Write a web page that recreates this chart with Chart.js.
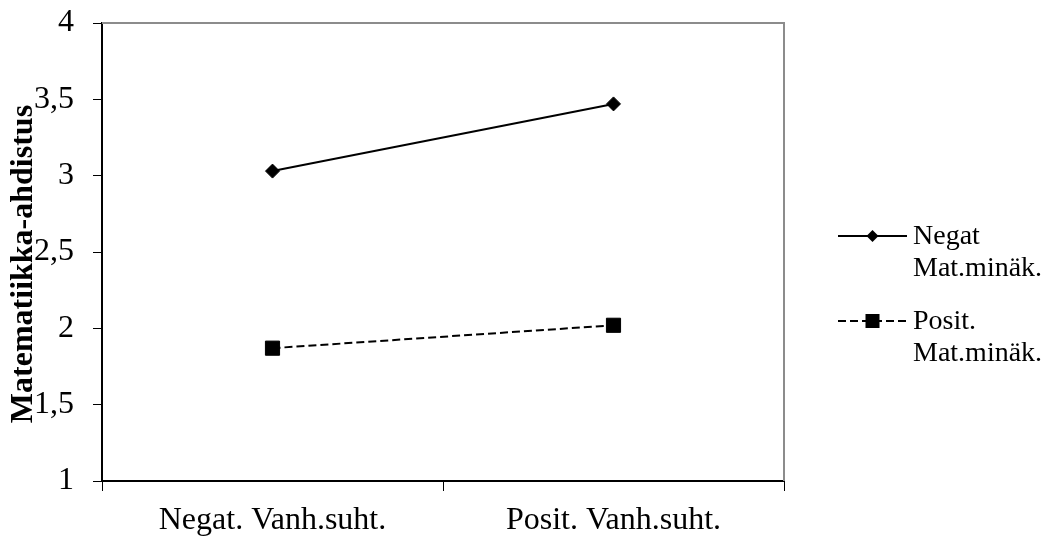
<!DOCTYPE html>
<html>
<head>
<meta charset="utf-8">
<script src="https://cdn.jsdelivr.net/npm/chart.js@4"></script>
<style>
  html, body { margin: 0; padding: 0; background: #fff; }
  #wrap { width: 1050px; height: 536px; }
</style>
</head>
<body>
<div id="wrap"><canvas id="c" width="1050" height="536"></canvas></div>
<script>
// Categories on the x axis
const categories = ['Negat. Vanh.suht.', 'Posit. Vanh.suht.'];
// Mean maths anxiety per group
const negatMatMinak = [3.03, 3.47];
const positMatMinak = [1.87, 2.02];
// Y axis tick values
const yTicks = [1, 1.5, 2, 2.5, 3, 3.5, 4];
// Series names (legend shows them on two lines)
const seriesNames = [['Negat', 'Mat.minäk.'], ['Posit.', 'Mat.minäk.']];
const yTitle = 'Matematiikka-ahdistus';

const serif = "'Liberation Serif', 'Times New Roman', serif";

// Gray frame on top and right side of the plot area
const frame = {
  id: 'frame',
  beforeDatasetsDraw(chart) {
    const { ctx, chartArea: a } = chart;
    ctx.save();
    ctx.strokeStyle = '#8c8c8c';
    ctx.lineWidth = 2;
    ctx.beginPath();
    ctx.moveTo(a.left, a.top);
    ctx.lineTo(a.right, a.top);
    ctx.lineTo(a.right, a.bottom);
    ctx.stroke();
    ctx.restore();
  }
};

// Legend on the right with line samples and two-line names
const sideLegend = {
  id: 'sideLegend',
  afterDraw(chart) {
    const { ctx } = chart;
    const x0 = 838, x1 = 907, tx = 913;
    const rows = [236, 321];
    ctx.save();
    chart.data.datasets.forEach((ds, i) => {
      const y = rows[i];
      ctx.strokeStyle = '#000';
      ctx.lineWidth = 2;
      ctx.setLineDash(ds.borderDash || []);
      ctx.beginPath();
      ctx.moveTo(x0, y);
      ctx.lineTo(x1, y);
      ctx.stroke();
      ctx.setLineDash([]);
      ctx.fillStyle = '#000';
      const cx = (x0 + x1) / 2;
      if (ds.pointStyle === 'rectRot') {
        ctx.beginPath();
        ctx.moveTo(cx, y - 6);
        ctx.lineTo(cx + 6, y);
        ctx.lineTo(cx, y + 6);
        ctx.lineTo(cx - 6, y);
        ctx.closePath();
        ctx.fill();
      } else {
        ctx.fillRect(cx - 7, y - 7, 14, 14);
      }
      ctx.font = '28px ' + serif;
      ctx.textBaseline = 'middle';
      ctx.textAlign = 'left';
      seriesNames[i].forEach((t, k) => ctx.fillText(t, tx, y + 1 + k * 32));
    });
    ctx.restore();
  }
};

new Chart(document.getElementById('c'), {
  type: 'line',
  data: {
    labels: categories,
    datasets: [
      {
        label: seriesNames[0].join(' '),
        data: negatMatMinak,
        borderColor: '#000',
        backgroundColor: '#000',
        borderWidth: 2,
        pointStyle: 'rectRot',
        pointRadius: 7,
        pointBorderWidth: 1,
        tension: 0
      },
      {
        label: seriesNames[1].join(' '),
        data: positMatMinak,
        borderColor: '#000',
        backgroundColor: '#000',
        borderWidth: 2,
        borderDash: [8, 4],
        pointStyle: 'rect',
        pointRadius: 10,
        pointBorderWidth: 1,
        tension: 0
      }
    ]
  },
  options: {
    responsive: false,
    animation: false,
    devicePixelRatio: 1,
    layout: { padding: { top: 23, right: 266, bottom: 0, left: 0 } },
    plugins: { legend: { display: false }, tooltip: { enabled: false } },
    scales: {
      x: {
        offset: true,
        afterFit(s) { s.height = 55; s.paddingLeft = 0; s.paddingRight = 0; },
        grid: { offset: true, drawOnChartArea: false, drawTicks: true, tickLength: 10, color: '#000', lineWidth: 1 },
        border: { display: true, color: '#000', width: 2 },
        ticks: { color: '#000', font: { family: serif, size: 32 }, padding: 10, maxRotation: 0 }
      },
      y: {
        min: 1,
        max: 4,
        afterFit(s) { s.width = 102; s.paddingTop = 0; s.paddingBottom = 0; },
        afterBuildTicks(s) {
          s.ticks = yTicks.map(v => ({ value: v }));
        },
        grid: { drawOnChartArea: false, drawTicks: true, tickLength: 9, color: '#000', lineWidth: 1 },
        border: { display: true, color: '#000', width: 2 },
        ticks: {
          color: '#000',
          font: { family: serif, size: 32 },
          padding: 19,
          callback: v => String(v).replace('.', ',')
        },
        title: {
          display: true,
          text: yTitle + '   ',
          color: '#000',
          font: { family: serif, size: 32, weight: 'bold' },
          padding: { top: 5, bottom: 0 }
        }
      }
    }
  },
  plugins: [frame, sideLegend]
});
</script>
</body>
</html>
